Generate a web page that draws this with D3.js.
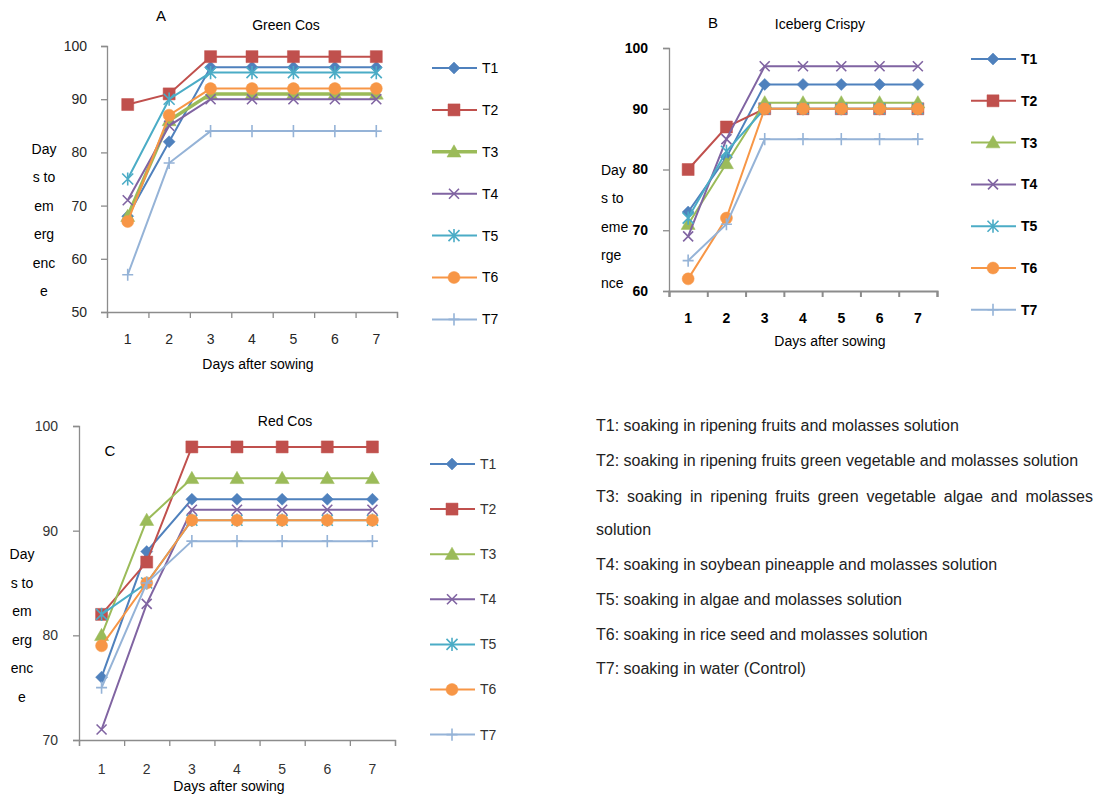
<!DOCTYPE html>
<html><head><meta charset="utf-8">
<script src="https://cdn.jsdelivr.net/npm/d3@7"></script>
<style>body{margin:0;background:#fff;} text{font-family:"Liberation Sans",Arial,sans-serif;}</style>
</head><body>
<script>
// ---- data ----
const days = [1, 2, 3, 4, 5, 6, 7];
const seriesNames = ["T1", "T2", "T3", "T4", "T5", "T6", "T7"];
const seriesColors = ["#4F81BD", "#C0504D", "#9BBB59", "#8064A2", "#4BACC6", "#F79646", "#95B3D7"];
const seriesMarkers = ["diamond", "square", "triangle", "x", "star", "circle", "plus"];

const greenCosT1 = [68, 82, 96, 96, 96, 96, 96];
const greenCosT2 = [89, 91, 98, 98, 98, 98, 98];
const greenCosT3 = [68, 86, 91, 91, 91, 91, 91];
const greenCosT4 = [71, 85, 90, 90, 90, 90, 90];
const greenCosT5 = [75, 90, 95, 95, 95, 95, 95];
const greenCosT6 = [67, 87, 92, 92, 92, 92, 92];
const greenCosT7 = [57, 78, 84, 84, 84, 84, 84];

const icebergT1 = [73, 82, 94, 94, 94, 94, 94];
const icebergT2 = [80, 87, 90, 90, 90, 90, 90];
const icebergT3 = [71, 81, 91, 91, 91, 91, 91];
const icebergT4 = [69, 85, 97, 97, 97, 97, 97];
const icebergT5 = [72, 83, 90, 90, 90, 90, 90];
const icebergT6 = [62, 72, 90, 90, 90, 90, 90];
const icebergT7 = [65, 71, 85, 85, 85, 85, 85];

const redCosT1 = [76, 88, 93, 93, 93, 93, 93];
const redCosT2 = [82, 87, 98, 98, 98, 98, 98];
const redCosT3 = [80, 91, 95, 95, 95, 95, 95];
const redCosT4 = [71, 83, 92, 92, 92, 92, 92];
const redCosT5 = [82, 85, 91, 91, 91, 91, 91];
const redCosT6 = [79, 85, 91, 91, 91, 91, 91];
const redCosT7 = [75, 85, 89, 89, 89, 89, 89];

const greenCosTicks = [50, 60, 70, 80, 90, 100];
const icebergTicks = [60, 70, 80, 90, 100];
const redCosTicks = [70, 80, 90, 100];

const yLabelA = ["Day", "s to", "em", "erg", "enc", "e"];
const yLabelB = ["Day", "s to", "eme", "rge", "nce"];
const xLabel = "Days after sowing";

const notes = [
  "T1: soaking in ripening fruits and molasses solution",
  "T2: soaking in ripening fruits green vegetable and molasses solution",
  "T3: soaking in ripening fruits green vegetable algae and molasses",
  "solution",
  "T4: soaking in soybean pineapple and molasses solution",
  "T5: soaking in algae and molasses solution",
  "T6: soaking in rice seed and molasses solution",
  "T7: soaking in water (Control)"
];

// ---- drawing ----
const svg = d3.select("body").append("svg").attr("width", 1117).attr("height", 797);

function markerPath(type) {
  const r = {diamond: 6, square: 6, triangle: 7, circle: 6, x: 5, star: 5.5, plus: 5.5}[type];
  switch (type) {
    case "diamond": return `M0,${-r}L${r},0L0,${r}L${-r},0Z`;
    case "square": return `M${-r},${-r}H${r}V${r}H${-r}Z`;
    case "triangle": return `M0,${-r}L${r},${r*0.75}L${-r},${r*0.75}Z`;
    case "circle": return d3.symbol().type(d3.symbolCircle).size(Math.PI * r * r)();
    case "x": return `M${-r},${-r}L${r},${r}M${-r},${r}L${r},${-r}`;
    case "star": return `M${-r},${-r}L${r},${r}M${-r},${r}L${r},${-r}M0,${-r*1.2}L0,${r*1.2}`;
    case "plus": return `M${-r},0L${r},0M0,${-r*1.1}L0,${r*1.1}`;
  }
}
const filled = t => ["diamond", "square", "triangle", "circle"].includes(t);

function drawMarker(g, type, color, x, y) {
  g.append("path").attr("d", markerPath(type))
    .attr("transform", `translate(${x},${y})`)
    .attr("fill", filled(type) ? color : "none")
    .attr("stroke", color)
    .attr("stroke-width", filled(type) ? 0.5 : 1.6);
}

function panel(cfg) {
  const g = svg.append("g");
  const x = d3.scaleBand().domain(days).range([cfg.x0, cfg.x1]).padding(0);
  const xb = d3.scaleLinear().domain([0, 7]).range([cfg.x0, cfg.x1]);
  const y = d3.scaleLinear().domain(cfg.domain).range([cfg.yBot, cfg.yTop]);
  const axisColor = "#8c8c8c";

  const ya = g.append("g").attr("transform", `translate(${cfg.x0},0)`)
    .call(d3.axisLeft(y).tickValues(cfg.ticks).tickSize(6).tickPadding(cfg.yPad).tickFormat(d3.format("d")));
  ya.select(".domain").attr("stroke", axisColor).attr("stroke-width", 1.3);
  ya.selectAll(".tick line").attr("stroke", axisColor).attr("stroke-width", 1.3);
  ya.selectAll("text").attr("font-size", 14).attr("fill", cfg.tickFill)
    .attr("font-weight", cfg.bold ? "bold" : "normal").attr("font-family", "'Liberation Sans',Arial,sans-serif");

  const xa = g.append("g").attr("transform", `translate(0,${cfg.yBot})`)
    .call(d3.axisBottom(xb).tickValues(d3.range(0, 8)).tickSize(6).tickFormat(""));
  xa.select(".domain").attr("stroke", axisColor).attr("stroke-width", cfg.bold ? 2 : 1.3);
  xa.selectAll(".tick line").attr("stroke", axisColor).attr("stroke-width", cfg.bold ? 2 : 1.3);
  const xl = g.append("g").attr("transform", `translate(0,${cfg.yBot})`)
    .call(d3.axisBottom(x).tickSize(0).tickPadding(cfg.xPad));
  xl.select(".domain").remove();
  xl.selectAll("text").attr("font-size", 14).attr("fill", cfg.tickFill)
    .attr("font-weight", cfg.bold ? "bold" : "normal").attr("font-family", "'Liberation Sans',Arial,sans-serif");

  const cx = d => x(d) + x.bandwidth() / 2;
  cfg.data.forEach((vals, i) => {
    const line = d3.line().x((v, j) => cx(days[j])).y(v => y(v));
    g.append("path").attr("d", line(vals)).attr("fill", "none")
      .attr("stroke", seriesColors[i]).attr("stroke-width", (cfg.thickT3 && i === 2) ? 3.5 : 2);
    vals.forEach((v, j) => drawMarker(g, seriesMarkers[i], seriesColors[i], cx(days[j]), y(v)));
  });

  seriesNames.forEach((nm, i) => {
    const ly = cfg.legY + i * cfg.legDy;
    g.append("line").attr("x1", cfg.legX).attr("x2", cfg.legX + 45).attr("y1", ly).attr("y2", ly)
      .attr("stroke", seriesColors[i]).attr("stroke-width", (cfg.thickT3 && i === 2) ? 3.5 : 2);
    drawMarker(g, seriesMarkers[i], seriesColors[i], cfg.legX + 22, ly);
    g.append("text").attr("x", cfg.legX + 50).attr("y", ly).attr("dy", "0.35em")
      .attr("font-size", 14).attr("font-weight", cfg.bold ? "bold" : "normal")
      .attr("fill", cfg.legFill).text(nm);
  });

  g.append("text").attr("x", cfg.letter[1]).attr("y", cfg.letter[2]).attr("dy", "0.35em")
    .attr("text-anchor", "middle").attr("font-size", 15).attr("fill", "#000").text(cfg.letter[0]);
  g.append("text").attr("x", cfg.title[1]).attr("y", cfg.title[2]).attr("dy", "0.35em")
    .attr("text-anchor", "middle").attr("font-size", 14).attr("fill", "#000").text(cfg.title[0]);

  cfg.yLabel.forEach((s, i) => {
    g.append("text").attr("x", cfg.yLab[0]).attr("y", cfg.yLab[1] + i * cfg.yLab[2]).attr("dy", "0.35em")
      .attr("text-anchor", cfg.yLabAnchor).attr("font-size", 14).attr("fill", "#000").text(s);
  });
  g.append("text").attr("x", cfg.xLab[0]).attr("y", cfg.xLab[1]).attr("dy", "0.35em")
    .attr("text-anchor", "middle").attr("font-size", 14).attr("fill", "#000").text(xLabel);
}

panel({
  data: [greenCosT1, greenCosT2, greenCosT3, greenCosT4, greenCosT5, greenCosT6, greenCosT7],
  x0: 107, x1: 397, yTop: 46, yBot: 312, domain: [50, 100], ticks: greenCosTicks,
  yPad: 14, xPad: 22, tickFill: "#262626", bold: false, thickT3: true,
  legX: 432, legY: 68, legDy: 41.9, legFill: "#000",
  letter: ["A", 161, 16], title: ["Green Cos", 286, 25],
  yLabel: yLabelA, yLab: [44, 149, 28.5], yLabAnchor: "middle",
  xLab: [258, 364]
});

panel({
  data: [icebergT1, icebergT2, icebergT3, icebergT4, icebergT5, icebergT6, icebergT7],
  x0: 669, x1: 937, yTop: 48, yBot: 291, domain: [60, 100], ticks: icebergTicks,
  yPad: 15, xPad: 22, tickFill: "#000", bold: true, thickT3: false,
  legX: 971, legY: 59, legDy: 41.8, legFill: "#000",
  letter: ["B", 713, 23], title: ["Iceberg Crispy", 820, 24],
  yLabel: yLabelB, yLab: [601, 170, 28.3], yLabAnchor: "start",
  xLab: [830, 341]
});

panel({
  data: [redCosT1, redCosT2, redCosT3, redCosT4, redCosT5, redCosT6, redCosT7],
  x0: 79, x1: 395, yTop: 426, yBot: 740, domain: [70, 100], ticks: redCosTicks,
  yPad: 15, xPad: 24, tickFill: "#333", bold: false, thickT3: false,
  legX: 430, legY: 464, legDy: 45.1, legFill: "#333",
  letter: ["C", 110, 451], title: ["Red Cos", 285, 421],
  yLabel: yLabelA, yLab: [22, 554, 28.6], yLabAnchor: "middle",
  xLab: [229, 786]
});

const noteY = [425, 460, 496, 529, 564, 599, 634, 668];
notes.forEach((s, i) => {
  const t = svg.append("text").attr("x", 596).attr("y", noteY[i]).attr("dy", "0.35em")
    .attr("font-size", 16).attr("fill", "#222").text(s);
  if (i === 2) {
    const w = t.node().getComputedTextLength();
    const gaps = s.split(" ").length - 1;
    t.attr("word-spacing", (1093 - 596 - w) / gaps);
  }
});
</script>
</body></html>
